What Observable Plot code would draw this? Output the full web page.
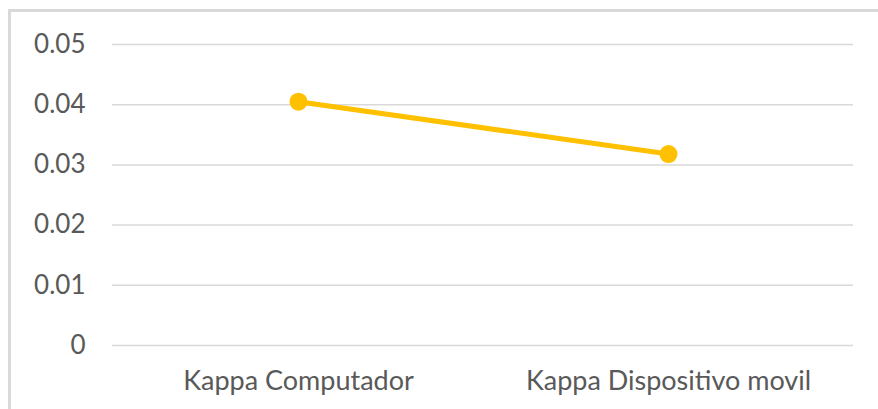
<!DOCTYPE html>
<html>
<head>
<meta charset="utf-8">
<script src="https://cdn.jsdelivr.net/npm/d3@7"></script>
<script src="https://cdn.jsdelivr.net/npm/@observablehq/plot@0.6"></script>
<style>
  html, body { margin: 0; padding: 0; background: #fff; overflow: hidden; width: 878px; height: 409px; }
  #wrap { position: relative; width: 878px; height: 409px; overflow: hidden; }
  #frame { position: absolute; left: 8px; top: 9px; width: 900px; height: 440px; border: 3px solid #d9d9d9; box-sizing: border-box; }
  #chart { position: absolute; left: 0; top: 0; }
</style>
</head>
<body>
<div id="wrap">
  <div id="frame"></div>
  <div id="chart"></div>
</div>
<script>
const categories = ["Kappa Computador", "Kappa Dispositivo movil"];
const values = [0.0405, 0.0318];
const yTicks = [0, 0.01, 0.02, 0.03, 0.04, 0.05];

const data = categories.map((c, i) => ({category: c, value: values[i]}));
const fmt = d => d === 0 ? "0" : d.toFixed(2);

const chart = Plot.plot({
  width: 878,
  height: 409,
  marginLeft: 112,
  marginRight: 25,
  marginTop: 44,
  marginBottom: 64,
  style: {fontFamily: "Lato, 'Open Sans', sans-serif", color: "#595959", background: "transparent"},
  x: {type: "band", domain: categories, padding: 0, label: null},
  y: {domain: [0, 0.05], label: null},
  marks: [
    Plot.ruleY(yTicks, {stroke: "#d9d9d9", strokeWidth: 1.5}),
    Plot.axisY({ticks: yTicks, tickSize: 0, tickPadding: 27, fontSize: 26, label: null, tickFormat: fmt}),
    Plot.axisX({tickSize: 0, tickPadding: 25, fontSize: 27, label: null}),
    Plot.lineY(data, {x: "category", y: "value", stroke: "#FFC000", strokeWidth: 5}),
    Plot.dot(data, {x: "category", y: "value", r: 9, fill: "#FFC000", stroke: "none"})
  ]
});
document.getElementById("chart").appendChild(chart);
</script>
</body>
</html>
